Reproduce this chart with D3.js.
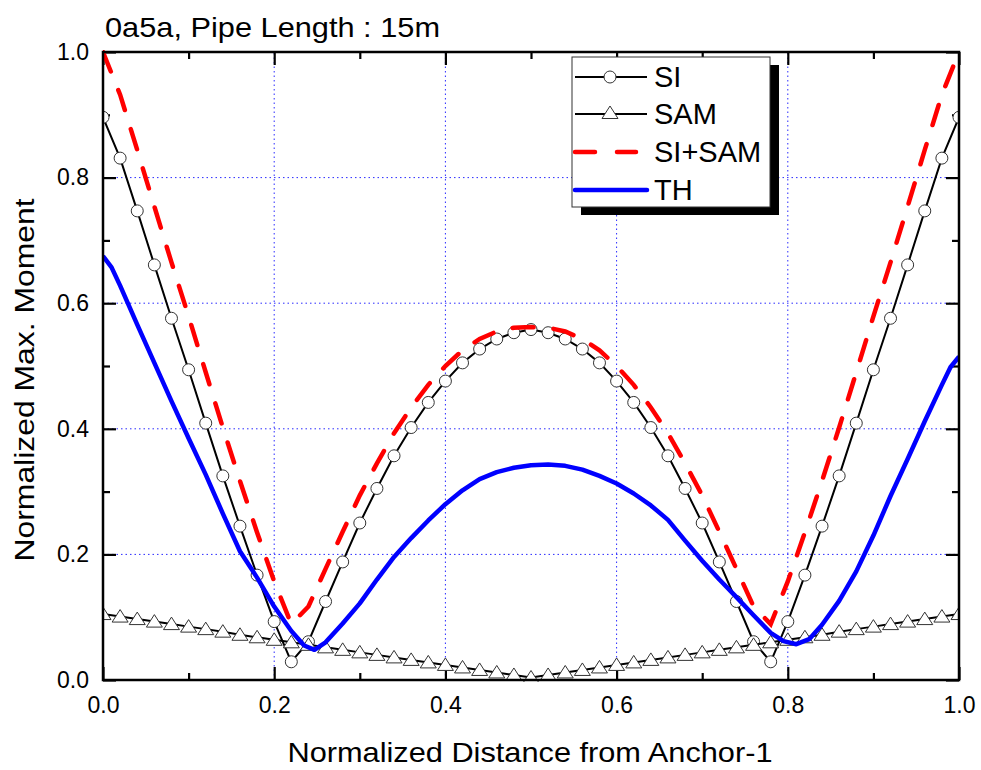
<!DOCTYPE html>
<html>
<head>
<meta charset="utf-8">
<script src="https://cdn.jsdelivr.net/npm/d3@7"></script>
<style>
  body { margin: 0; background: #fff; }
  svg text { font-family: "Liberation Sans", Arial, sans-serif; fill: #000; }
</style>
</head>
<body>
<div id="chart"></div>
<script>
// positions along the pipe (SI / SAM / SI+SAM share these)
const distance = [0.00,0.02,0.04,0.06,0.08,0.10,0.12,0.14,0.16,0.18,0.20,0.22,0.24,0.26,0.28,0.30,0.32,0.34,0.36,0.38,0.40,0.42,0.44,0.46,0.48,0.50,
  0.52,0.54,0.56,0.58,0.60,0.62,0.64,0.66,0.68,0.70,0.72,0.74,0.76,0.78,0.80,0.82,0.84,0.86,0.88,0.90,0.92,0.94,0.96,0.98,1.00];

const siValues = [0.896,0.831,0.747,0.661,0.576,0.494,0.409,0.325,0.245,0.167,0.093,0.029,0.061,0.125,0.188,0.250,0.305,0.357,0.402,0.442,0.476,0.505,0.527,0.543,0.553,0.558,
  0.553,0.543,0.527,0.505,0.476,0.442,0.402,0.357,0.305,0.250,0.188,0.125,0.061,0.029,0.093,0.167,0.245,0.325,0.409,0.494,0.576,0.661,0.747,0.831,0.896];

const samValues = [0.105,0.101,0.097,0.093,0.089,0.085,0.081,0.077,0.072,0.068,0.064,0.060,0.056,0.052,0.048,0.044,0.040,0.036,0.032,0.028,0.024,0.020,0.016,0.012,0.008,0.004,
  0.008,0.012,0.016,0.020,0.024,0.028,0.032,0.036,0.040,0.044,0.048,0.052,0.056,0.060,0.064,0.068,0.072,0.077,0.081,0.085,0.089,0.093,0.097,0.101,0.105];

const siSamValues = [1.000,0.932,0.844,0.754,0.665,0.579,0.490,0.402,0.317,0.235,0.157,0.089,0.117,0.177,0.236,0.294,0.345,0.393,0.434,0.470,0.500,0.525,0.543,0.555,0.561,0.562,
  0.561,0.555,0.543,0.525,0.500,0.470,0.434,0.393,0.345,0.294,0.236,0.177,0.117,0.089,0.157,0.235,0.317,0.402,0.490,0.579,0.665,0.754,0.844,0.932,1.000];

// time history curve, sampled a bit finer near the dips
const thDistance = [0,0.01,0.02,0.04,0.06,0.08,0.10,0.12,0.14,0.16,0.18,0.20,0.22,0.235,0.247,0.26,0.28,0.30,0.32,0.34,0.36,0.38,0.40,0.42,0.44,0.46,0.48,0.50,0.52,
  0.54,0.56,0.58,0.60,0.62,0.64,0.66,0.68,0.70,0.72,0.74,0.76,0.78,0.795,0.81,0.825,0.84,0.86,0.88,0.90,0.92,0.94,0.96,0.98,0.99,1.00];
const thValues = [0.675,0.657,0.628,0.566,0.505,0.444,0.385,0.327,0.265,0.205,0.163,0.117,0.078,0.055,0.048,0.060,0.090,0.122,0.160,0.196,0.226,0.254,0.280,0.302,0.320,0.331,0.338,0.342,0.343,
  0.341,0.335,0.325,0.313,0.297,0.278,0.255,0.222,0.190,0.160,0.132,0.103,0.075,0.062,0.057,0.065,0.088,0.126,0.173,0.230,0.293,0.352,0.412,0.470,0.498,0.515];

const majorTicks = [0, 0.2, 0.4, 0.6, 0.8, 1.0];
const minorTicks = [0.1, 0.3, 0.5, 0.7, 0.9];
const gridTicks = [0.2, 0.4, 0.6, 0.8];
const legendLabels = ["SI", "SAM", "SI+SAM", "TH"];

const width = 981, height = 770;
const margin = { top: 52, right: 22, bottom: 90, left: 103 };

const svg = d3.select("#chart").append("svg")
  .attr("width", width)
  .attr("height", height);

const x = d3.scaleLinear().domain([0, 1]).range([margin.left, width - margin.right]);
const y = d3.scaleLinear().domain([0, 1]).range([height - margin.bottom, margin.top]);

svg.append("defs").append("clipPath").attr("id", "plotclip")
  .append("rect")
  .attr("x", x(0)).attr("y", y(1) - 2)
  .attr("width", x(1) - x(0)).attr("height", y(0) - y(1) + 4);

// grid
const grid = svg.append("g").attr("class", "grid");
grid.selectAll("line.gx").data(gridTicks).enter().append("line")
  .attr("x1", d => x(d)).attr("x2", d => x(d))
  .attr("y1", y(0)).attr("y2", y(1))
  .attr("stroke", "#2a2aff").attr("stroke-width", 1).attr("stroke-dasharray", "1.5,3");
grid.selectAll("line.gy").data(gridTicks).enter().append("line")
  .attr("y1", d => y(d)).attr("y2", d => y(d))
  .attr("x1", x(0)).attr("x2", x(1))
  .attr("stroke", "#2a2aff").attr("stroke-width", 1).attr("stroke-dasharray", "1.5,3");

// axes (ticks inward on all four sides)
const fmt = d3.format(".1f");
function styleAxis(g) {
  g.select(".domain").remove();
  g.selectAll(".tick line").attr("stroke", "#000").attr("stroke-width", 2.2);
  g.selectAll(".tick text").style("font-family", "Liberation Sans, Arial, sans-serif").style("font-size", "23px").attr("fill", "#000");
}
svg.append("g").attr("transform", `translate(0,${y(0)})`)
  .call(d3.axisBottom(x).tickValues(majorTicks).tickFormat(fmt).tickSize(-13).tickPadding(17)).call(styleAxis);
svg.append("g").attr("transform", `translate(0,${y(0)})`)
  .call(d3.axisBottom(x).tickValues(minorTicks).tickFormat("").tickSize(-7)).call(styleAxis);
svg.append("g").attr("transform", `translate(0,${y(1)})`)
  .call(d3.axisTop(x).tickValues(majorTicks).tickFormat("").tickSize(-13)).call(styleAxis);
svg.append("g").attr("transform", `translate(0,${y(1)})`)
  .call(d3.axisTop(x).tickValues(minorTicks).tickFormat("").tickSize(-7)).call(styleAxis);
svg.append("g").attr("transform", `translate(${x(0)},0)`)
  .call(d3.axisLeft(y).tickValues(majorTicks).tickFormat(fmt).tickSize(-13).tickPadding(14)).call(styleAxis);
svg.append("g").attr("transform", `translate(${x(0)},0)`)
  .call(d3.axisLeft(y).tickValues(minorTicks).tickFormat("").tickSize(-7)).call(styleAxis);
svg.append("g").attr("transform", `translate(${x(1)},0)`)
  .call(d3.axisRight(y).tickValues(majorTicks).tickFormat("").tickSize(-13)).call(styleAxis);
svg.append("g").attr("transform", `translate(${x(1)},0)`)
  .call(d3.axisRight(y).tickValues(minorTicks).tickFormat("").tickSize(-7)).call(styleAxis);

// series
const plot = svg.append("g").attr("clip-path", "url(#plotclip)");
const line = d3.line().x(d => x(d[0])).y(d => y(d[1]));
const siData = distance.map((d, i) => [d, siValues[i]]);
const samData = distance.map((d, i) => [d, samValues[i]]);
const sumData = distance.map((d, i) => [d, siSamValues[i]]);
const thData = thDistance.map((d, i) => [d, thValues[i]]);

const triangle = "M0,-7 L8,5.5 L-8,5.5 Z";

plot.append("path").datum(siData).attr("d", line)
  .attr("fill", "none").attr("stroke", "#000").attr("stroke-width", 2);
plot.selectAll("circle.si").data(siData).enter().append("circle")
  .attr("class", "si")
  .attr("cx", d => x(d[0])).attr("cy", d => y(d[1])).attr("r", 6)
  .attr("fill", "#fff").attr("stroke", "#333").attr("stroke-width", 1);

plot.append("path").datum(samData).attr("d", line)
  .attr("fill", "none").attr("stroke", "#000").attr("stroke-width", 2);
plot.selectAll("path.sam").data(samData).enter().append("path")
  .attr("class", "sam")
  .attr("d", triangle)
  .attr("transform", d => `translate(${x(d[0])},${y(d[1])})`)
  .attr("fill", "#fff").attr("stroke", "#333").attr("stroke-width", 1);

plot.append("path").datum(sumData).attr("d", line)
  .attr("fill", "none").attr("stroke", "#ff0000").attr("stroke-width", 4.5)
  .attr("stroke-dasharray", "21,20").attr("stroke-linecap", "round");

plot.append("path").datum(thData).attr("d", line)
  .attr("fill", "none").attr("stroke", "#0000ff").attr("stroke-width", 4.5)
  .attr("stroke-linejoin", "round");

// frame
svg.append("rect")
  .attr("x", x(0)).attr("y", y(1))
  .attr("width", x(1) - x(0)).attr("height", y(0) - y(1))
  .attr("fill", "none").attr("stroke", "#000").attr("stroke-width", 2.5);

// legend
const lg = svg.append("g").attr("transform", "translate(572,57)");
const lgW = 198, lgH = 150;
lg.append("rect").attr("x", 9).attr("y", 8).attr("width", lgW).attr("height", lgH).attr("fill", "#000");
lg.append("rect").attr("x", 0).attr("y", 0).attr("width", lgW).attr("height", lgH)
  .attr("fill", "#fff").attr("stroke", "#333").attr("stroke-width", 1);
const rowY = [20, 57, 95, 133];
legendLabels.forEach((label, i) => {
  const ry = rowY[i];
  const ln = lg.append("line").attr("x1", 3).attr("x2", 75).attr("y1", ry).attr("y2", ry);
  if (i < 2) {
    ln.attr("stroke", "#000").attr("stroke-width", 2);
    if (i === 0) {
      lg.append("circle").attr("cx", 38).attr("cy", ry).attr("r", 6)
        .attr("fill", "#fff").attr("stroke", "#333").attr("stroke-width", 1);
    } else {
      lg.append("path").attr("d", triangle).attr("transform", `translate(38,${ry - 1})`)
        .attr("fill", "#fff").attr("stroke", "#333").attr("stroke-width", 1);
    }
  } else if (i === 2) {
    ln.attr("x1", 3).attr("x2", 64).attr("stroke", "#ff0000").attr("stroke-width", 4.5)
      .attr("stroke-dasharray", "20,22").attr("stroke-linecap", "round");
  } else {
    ln.attr("stroke", "#0000ff").attr("stroke-width", 4.5).attr("stroke-linecap", "round");
  }
  lg.append("text").attr("x", 82).attr("y", ry + 10)
    .style("font-size", "29px").text(label);
});

// titles
svg.append("text").attr("x", 105).attr("y", 37)
  .style("font-size", "28px")
  .attr("textLength", 335).attr("lengthAdjust", "spacingAndGlyphs")
  .text("0a5a, Pipe Length : 15m");

svg.append("text").attr("x", 530).attr("y", 762)
  .attr("text-anchor", "middle")
  .style("font-size", "28px")
  .attr("textLength", 485).attr("lengthAdjust", "spacingAndGlyphs")
  .text("Normalized Distance from Anchor-1");

svg.append("text")
  .attr("transform", "translate(34,380) rotate(-90)")
  .attr("text-anchor", "middle")
  .style("font-size", "27px")
  .attr("textLength", 363).attr("lengthAdjust", "spacingAndGlyphs")
  .text("Normalized Max. Moment");
</script>
</body>
</html>
